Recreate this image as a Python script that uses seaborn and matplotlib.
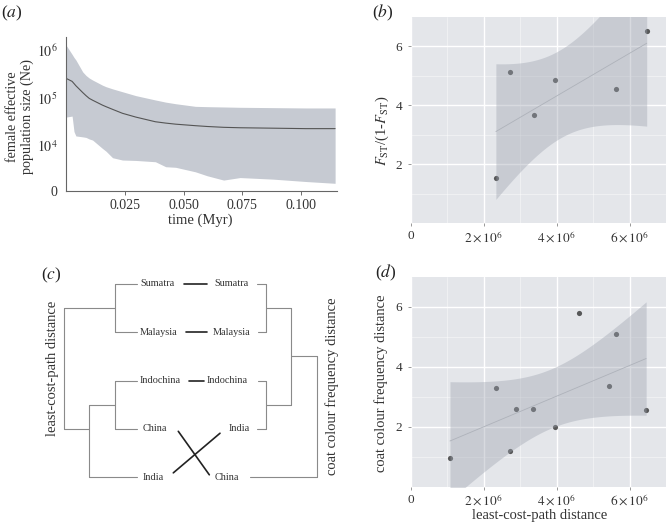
import numpy as np
import pandas as pd
import seaborn as sns
import matplotlib
matplotlib.use('Agg')
import matplotlib.pyplot as plt

sns.set_theme(style='white')
plt.rcParams['font.family'] = ['Liberation Serif', 'DejaVu Serif']
plt.rcParams['mathtext.fontset'] = 'stix'

W, H = 668, 524

# (a) skyline plot, female Ne through time
time_myr = [0, 0.0026, 0.0034, 0.0042, 0.0071, 0.0085, 0.0099, 0.0113, 0.0155, 0.017,
            0.0198, 0.024, 0.0297, 0.038, 0.0424, 0.0466, 0.055, 0.060, 0.067, 0.074,
            0.088, 0.102, 0.1144]
ne_median = [2.57e5, 2.22e5, 2.0e5, 1.8e5, 1.3e5, 1.12e5, 9.8e4, 9.0e4, 7.1e4, 6.6e4,
             5.8e4, 4.8e4, 4.0e4, 3.2e4, 3.0e4, 2.85e4, 2.65e4, 2.55e4, 2.45e4, 2.4e4,
             2.35e4, 2.3e4, 2.3e4]
ne_upper = [1.27e6, 8.1e5, 7.0e5, 6.2e5, 3.5e5, 2.95e5, 2.6e5, 2.37e5, 1.85e5, 1.72e5,
            1.55e5, 1.35e5, 1.12e5, 9.1e4, 8.2e4, 7.6e4, 6.7e4, 6.6e4, 6.5e4, 6.4e4,
            6.3e4, 6.2e4, 6.2e4]
ne_lower = [4.0e4, 4.2e4, 2.0e4, 1.62e4, 1.55e4, 1.51e4, 1.4e4, 1.33e4, 8.9e3, 7.8e3,
            5.7e3, 5.1e3, 5.0e3, 4.7e3, 3.7e3, 3.6e3, 2.9e3, 2.4e3, 1.95e3, 2.2e3,
            2.04e3, 1.82e3, 1.67e3]

# (b) genetic differentiation vs least-cost-path distance
fst_dist = [2.33e6, 2.73e6, 3.37e6, 3.95e6, 5.64e6, 6.47e6]
fst_ratio = [1.53, 5.14, 3.66, 4.85, 4.54, 6.54]

# (d) coat colour frequency distance vs least-cost-path distance
coat_dist = [1.07e6, 2.33e6, 2.71e6, 2.885e6, 3.36e6, 3.945e6, 4.62e6, 5.44e6, 5.625e6, 6.455e6]
coat_freq = [0.97, 3.28, 1.19, 2.58, 2.60, 2.00, 5.81, 3.37, 5.09, 2.55]

# (c) tanglegram
left_leaves = ['Sumatra', 'Malaysia', 'Indochina', 'China', 'India']
right_leaves = ['Sumatra', 'Malaysia', 'Indochina', 'India', 'China']
left_tip = [137, 137, 137, 137, 137]
right_tip = [257, 257.5, 258, 257, 249.5]
left_text_x = [140, 140, 139.5, 142.5, 142.5]
right_text_x = [249, 250, 247.7, 250, 239.3]
# merges: (child a, child b, join x, stem row or None = midpoint)
left_merges = [('Sumatra', 'Malaysia', 114.7, None),
               ('Indochina', 'China', 114.7, None),
               (1, 'India', 89.3, 3.0),
               (0, 2, 64, None)]
right_merges = [('Sumatra', 'Malaysia', 265.7, None),
                ('Indochina', 'India', 265.7, None),
                (0, 1, 291, None),
                (2, 'China', 317.3, None)]
link_left_x = {'Sumatra': 184.3, 'Malaysia': 185.7, 'Indochina': 189.3, 'China': 178.3, 'India': 173.3}
link_right_x = {'Sumatra': 206.7, 'Malaysia': 206.7, 'Indochina': 204, 'China': 209.3, 'India': 220}

T_CRIT = {4: 2.776, 8: 2.306}

band_col = '#9ea4b0'
bg_col = '#e4e6ea'
tree_col = '#8a8a8a'


def fx(px):
    return px / W


def fy(py):
    return 1 - py / H


def lm_band(x, y, n=100):
    x = np.asarray(x, float)
    y = np.asarray(y, float)
    b, a = np.polyfit(x, y, 1)
    res = y - (a + b * x)
    dof = len(x) - 2
    s = np.sqrt((res ** 2).sum() / dof)
    sxx = ((x - x.mean()) ** 2).sum()
    grid = np.linspace(x.min(), x.max(), n)
    se = s * np.sqrt(1 / len(x) + (grid - x.mean()) ** 2 / sxx)
    fit = a + b * grid
    return grid, fit - T_CRIT[dof] * se, fit + T_CRIT[dof] * se


def gg_panel(ax, x, y):
    ax.set_facecolor(bg_col)
    ax.set_axisbelow(True)
    sns.regplot(x=x, y=y, ax=ax, ci=None, truncate=True,
                scatter_kws=dict(s=14, color='#333333', linewidths=0, zorder=1),
                line_kws=dict(color='#aeb2ba', lw=0.6, zorder=3))
    gx, lo, hi = lm_band(x, y)
    ax.fill_between(gx, lo, hi, color=band_col, alpha=0.4, lw=0, zorder=2.5)
    ax.set_xlim(0, 7e6)
    ax.set_ylim(0, 7)
    ax.set_xticks([0, 2e6, 4e6, 6e6],
                  labels=['0', r'$2\times10^6$', r'$4\times10^6$', r'$6\times10^6$'])
    ax.set_yticks([2, 4, 6], labels=['2', '4', '6'])
    ax.set_xticks([1e6, 3e6, 5e6], minor=True)
    ax.set_yticks([1, 3, 5], minor=True)
    ax.grid(True, which='major', color='white', lw=1.0)
    ax.grid(True, which='minor', color='white', lw=0.5, alpha=0.6)
    ax.tick_params(which='major', length=2.5, width=0.6, color='#888888',
                   labelsize=9.5, labelcolor='#333333', bottom=True, left=True)
    ax.tick_params(axis='x', which='major', pad=2.5)
    ax.tick_params(axis='y', which='major', pad=4)
    ax.tick_params(which='minor', length=0)
    for sp in ax.spines.values():
        sp.set_visible(False)
    ax.set_xlabel('')
    ax.set_ylabel('')


fig = plt.figure(figsize=(W / 100, H / 100), dpi=100)
fig.patch.set_facecolor('white')

# ---- (a)
ax_a = fig.add_axes([fx(66), fy(191), fx(337) - fx(66), fy(36.7) - fy(191)])
ax_a.set_facecolor('white')
ax_a.set_yscale('log')
ax_a.fill_between(time_myr, ne_lower, ne_upper, color='#c6cad2', lw=0)
sns.lineplot(x=time_myr, y=ne_median, ax=ax_a, color='#555555', lw=0.8)
ax_a.set_xlim(0, 0.1152)
ax_a.set_ylim(10 ** 3.0625, 10 ** 6.277)
ax_a.minorticks_off()
ax_a.set_yticks([10 ** 3.0625, 1e4, 1e5, 1e6], labels=['0', r'$10^4$', r'$10^5$', r'$10^6$'])
ax_a.set_xticks([0.025, 0.05, 0.075, 0.1], labels=['0.025', '0.050', '0.075', '0.100'])
ax_a.tick_params(axis='x', length=3, width=0.6, color='#555555', pad=3, labelsize=10,
                 labelcolor='#333333', bottom=True)
ax_a.tick_params(axis='y', length=0, pad=6, labelsize=10, labelcolor='#333333', left=True)
for k in ['top', 'right']:
    ax_a.spines[k].set_visible(False)
for k in ['left', 'bottom']:
    ax_a.spines[k].set_color('#666666')
    ax_a.spines[k].set_linewidth(0.8)
ax_a.set_xlabel('')
ax_a.set_ylabel('')
fig.text(fx(200), fy(220), 'time (Myr)', ha='center', va='center', fontsize=10.5, color='#333333')
fig.text(fx(20), fy(117), 'female effective\npopulation size (Ne)', ha='center', va='center',
         rotation=90, fontsize=10.2, color='#333333', linespacing=1.15)

# ---- (b)
ax_b = fig.add_axes([fx(411), fy(223), fx(666) - fx(411), fy(17) - fy(223)])
gg_panel(ax_b, fst_dist, fst_ratio)
fig.text(fx(382), fy(131), r'$F_{\mathrm{ST}}$/(1-$F_{\mathrm{ST}}$)', ha='center', va='center',
         rotation=90, fontsize=10.5, color='#333333')

# ---- (d)
ax_d = fig.add_axes([fx(411), fy(486.7), fx(666) - fx(411), fy(277) - fy(486.7)])
gg_panel(ax_d, coat_dist, coat_freq)
fig.text(fx(381.5), fy(383), 'coat colour frequency distance', ha='center', va='center',
         rotation=90, fontsize=10.5, color='#333333')
fig.text(fx(540), fy(515), 'least-cost-path distance', ha='center', va='center',
         fontsize=10.5, color='#333333')

# ---- (c) tanglegram
ax_c = fig.add_axes([0, 0, fx(340), fy(270)])
row0, drow = 284, 48.3
ax_c.set_xlim(0, 340)
ax_c.set_ylim((524 - row0) / drow, (270 - row0) / drow)
ax_c.axis('off')


def draw_tree(ax, leaves, tips, merges):
    pos = {name: (tips[i], float(i)) for i, name in enumerate(leaves)}
    nodes = []
    for a, b, xj, stem in merges:
        pa = nodes[a] if isinstance(a, int) else pos[a]
        pb = nodes[b] if isinstance(b, int) else pos[b]
        for px, py in (pa, pb):
            ax.plot([px, xj], [py, py], color=tree_col, lw=0.8)
        ax.plot([xj, xj], [pa[1], pb[1]], color=tree_col, lw=0.8)
        ymid = (pa[1] + pb[1]) / 2 if stem is None else stem
        nodes.append((xj, ymid))


draw_tree(ax_c, left_leaves, left_tip, left_merges)
draw_tree(ax_c, right_leaves, right_tip, right_merges)

for i, name in enumerate(left_leaves):
    ax_c.text(left_text_x[i], i, name, ha='left', va='center', fontsize=7.4, color='#333333')
for i, name in enumerate(right_leaves):
    ax_c.text(right_text_x[i], i, name, ha='right', va='center', fontsize=7.4, color='#333333')

for name in left_leaves:
    yl = left_leaves.index(name)
    yr = right_leaves.index(name)
    if yl != yr:
        off = 0.05 if yr > yl else -0.09
        yl2, yr2 = yl + off, yr - off
    else:
        yl2, yr2 = yl, yr
    ax_c.plot([link_left_x[name], link_right_x[name]], [yl2, yr2], color='#222222', lw=1.2)

fig.text(fx(52.7), fy(368), 'least-cost-path distance', ha='center', va='center',
         rotation=90, fontsize=10.5, color='#333333')
fig.text(fx(331.7), fy(386.7), 'coat colour frequency distance', ha='center', va='center',
         rotation=90, fontsize=10.5, color='#333333')

# panel letters
for lab, px, py in [('a', 11.7, 13.7), ('b', 383, 13), ('c', 51, 275), ('d', 386, 273)]:
    fig.text(fx(px), fy(py), '($' + lab + '$)', ha='center', va='center', fontsize=12.5,
             color='#222222')

fig.savefig('out.png', dpi=100, facecolor='white')
